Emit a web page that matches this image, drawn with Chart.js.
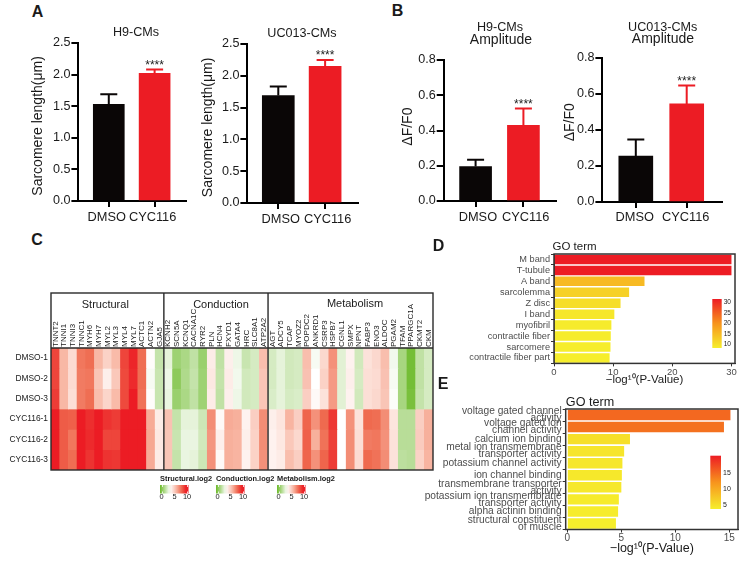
<!DOCTYPE html>
<html>
<head>
<meta charset="utf-8">
<script src="https://cdn.jsdelivr.net/npm/chart.js@4"></script>
<style>
html, body { margin: 0; padding: 0; background: #fff; }
#page { position: relative; width: 753px; height: 563px; overflow: hidden; }
canvas { position: absolute; }
.txt { position: absolute; transform: translate(-50%, -50%); white-space: nowrap; font-family: "Liberation Sans", Arial, sans-serif; color: #1a1a1a; line-height: 1; }
</style>
</head>
<body>
<div id="page"></div>
<script>
"use strict";

// bars
var groups = ["DMSO", "CYC116"];
var lengthH9 = [1.53, 2.02];
var lengthH9Top = [1.69, 2.08];
var lengthUC = [1.69, 2.15];
var lengthUCTop = [1.83, 2.25];
var ampH9 = [0.196, 0.43];
var ampH9Top = [0.234, 0.525];
var ampUC = [0.255, 0.545];
var ampUCTop = [0.347, 0.647];

// heatmap
var genes = ["TNNT2", "TNNI1", "TNNI3", "TNNC1", "MYH6", "MYH7", "MYL2", "MYL3", "MYL4", "MYL7", "ACTC1", "ACTN2", "GJA5",
    "KCNH2", "SCN5A", "KCNQ1", "CACNA1C", "RYR2", "PLN", "HCN4", "FXYD1", "GATA4", "HRC", "SLC8A1", "ATP2A2",
    "AGT", "ADCY5", "TCAP", "MYOZ2", "POPDC2", "ANKRD1", "CSRP3", "HSPB7", "CGNL1", "SMPX", "NPNT", "FABP3", "ENO3", "ALDOC", "PGAM2", "TFAM", "PPARGC1A", "CKMT2", "CKM"];
var samples = ["DMSO-1", "DMSO-2", "DMSO-3", "CYC116-1", "CYC116-2", "CYC116-3"];
var dmso1 = [8.3, 5.7, 4.6, 7.2, 7.4, 5.7, 4.9, 5.6, 8.3, 9.0, 7.4, 3.6, 2.1,
    2.9, 1.2, 1.5, 2.0, 1.1, 4.1, 2.0, 4.0, 3.1, 2.2, 2.5, 5.5,
    2.5, 2.9, 2.4, 2.5, 5.5, 3.3, 4.7, 6.6, 2.8, 3.9, 2.4, 4.4, 4.7, 5.5, 3.2, 1.4, 0.2, 2.0, 2.5];
var dmso2 = [8.3, 5.7, 4.6, 7.1, 7.2, 5.3, 4.0, 5.2, 8.2, 8.9, 7.4, 3.3, 2.2,
    3.1, 0.8, 1.6, 2.1, 1.2, 4.2, 2.1, 4.1, 3.2, 2.4, 2.5, 5.3,
    2.5, 2.9, 2.4, 2.5, 5.4, 3.5, 4.9, 6.4, 2.8, 4.0, 2.5, 4.5, 4.6, 5.4, 3.3, 1.4, 0.2, 2.0, 2.5];
var dmso3 = [8.5, 5.7, 4.5, 7.1, 7.4, 5.5, 4.8, 5.6, 8.2, 9.4, 7.3, 3.6, 2.2,
    3.0, 1.1, 1.5, 2.0, 1.2, 4.1, 2.0, 4.0, 3.1, 2.4, 2.5, 5.3,
    2.6, 2.9, 2.5, 2.6, 5.0, 3.7, 4.4, 6.4, 2.8, 3.9, 2.4, 4.5, 4.7, 5.3, 3.4, 1.4, 0.3, 2.1, 2.5];
var cyc1 = [9.5, 7.8, 7.7, 9.5, 8.8, 9.5, 8.7, 8.5, 9.3, 9.5, 9.4, 6.0, 4.1,
    5.4, 2.1, 2.9, 2.9, 2.3, 6.7, 3.7, 6.0, 5.9, 3.9, 5.0, 6.7,
    4.0, 4.3, 5.8, 5.0, 7.6, 6.6, 7.5, 8.6, 3.5, 6.6, 4.4, 7.5, 7.4, 6.7, 4.3, 1.8, 1.8, 5.0, 5.9];
var cyc2 = [9.5, 7.8, 7.2, 9.5, 8.9, 9.3, 8.3, 8.3, 9.3, 9.5, 9.4, 6.1, 4.2,
    5.3, 2.2, 3.0, 3.0, 2.4, 6.5, 4.0, 5.9, 5.8, 4.0, 4.9, 6.7,
    3.9, 4.2, 5.2, 4.7, 7.7, 5.9, 7.3, 8.4, 3.5, 6.7, 4.5, 7.1, 7.2, 6.6, 4.4, 1.8, 1.8, 5.1, 5.9];
var cyc3 = [9.5, 7.8, 7.4, 9.4, 8.7, 9.4, 8.7, 8.6, 9.3, 9.5, 9.4, 6.0, 4.1,
    5.3, 2.1, 3.0, 2.9, 2.3, 6.6, 3.7, 5.9, 5.8, 3.9, 4.9, 6.6,
    3.9, 4.1, 5.5, 5.0, 7.6, 6.6, 7.6, 8.5, 3.5, 6.7, 4.6, 7.5, 7.3, 6.7, 4.4, 1.9, 1.8, 4.9, 5.8];

// GO term bars
var goCellTerms = ["M band", "T-tubule", "A band", "sarcolemma", "Z disc", "I band", "myofibril", "contractile fiber", "sarcomere", "contractile fiber part"];
var goCellValues = [30, 30, 15.3, 12.7, 11.25, 10.2, 9.7, 9.6, 9.55, 9.4];
var goFuncTerms = [["voltage gated channel", "activity"], ["voltage gated ion", "channel activity"], "calcium ion binding",
    ["metal ion transmembrane", "transporter activity"], "potassium channel activity", "ion channel binding",
    ["transmembrane transporter", "activity"], ["potassium ion transmembrane", "transporter activity"], "alpha actinin binding",
    ["structural constituent", "of muscle"]];
var goFuncValues = [15.1, 14.5, 5.8, 5.26, 5.1, 5.05, 5.0, 4.77, 4.7, 4.5];

Chart.defaults.font.family = '"Liberation Sans", Arial, sans-serif';
Chart.defaults.animation = false;
Chart.defaults.plugins.legend.display = false;
Chart.defaults.plugins.tooltip.enabled = false;

var page = document.getElementById('page');

function addCanvas(left, top, w, h) {
    var c = document.createElement('canvas');
    c.width = w;
    c.height = h;
    c.style.left = left + 'px';
    c.style.top = top + 'px';
    page.appendChild(c);
    return c;
}

function addText(str, x, y, size, bold) {
    var d = document.createElement('div');
    d.className = 'txt';
    d.textContent = str;
    d.style.left = x + 'px';
    d.style.top = y + 'px';
    d.style.fontSize = size + 'px';
    if (bold) d.style.fontWeight = 'bold';
    page.appendChild(d);
}

function mix(a, b, t) {
    t = Math.max(0, Math.min(1, t));
    return 'rgb(' + [0, 1, 2].map(function (i) { return Math.round(a[i] + (b[i] - a[i]) * t); }).join(',') + ')';
}

// green below about 3.5, white, then salmon into red
function heatColor(v) {
    if (v <= 3.5) return mix([108, 186, 42], [255, 255, 255], v / 3.5);
    var t = (v - 3.5) / 5.7;
    if (t < 0.4) return mix([255, 255, 255], [248, 181, 162], t / 0.4);
    if (t < 0.7) return mix([248, 181, 162], [239, 106, 79], (t - 0.4) / 0.3);
    return mix([239, 106, 79], [236, 28, 36], (t - 0.7) / 0.3);
}

// yellow - orange - red ramp used by both GO panels
function goColor(v, lo, hi) {
    var t = (v - lo) / (hi - lo);
    if (t < 0.5) return mix([246, 238, 44], [247, 148, 29], t * 2);
    return mix([247, 148, 29], [237, 28, 36], (t - 0.5) * 2);
}

// error whiskers and stars, positioned through the chart's own scales
var whiskers = {
    id: 'whiskers',
    afterDatasetsDraw: function (chart, args, opts) {
        var c = chart.ctx, xs = chart.scales.x, ys = chart.scales.y;
        c.save();
        c.lineWidth = 2;
        opts.tops.forEach(function (top, i) {
            var x = xs.getPixelForValue(i), y = ys.getPixelForValue(top), base = ys.getPixelForValue(opts.values[i]);
            c.strokeStyle = opts.colors[i];
            c.beginPath();
            c.moveTo(x, base);
            c.lineTo(x, y);
            c.moveTo(x - 8.5, y);
            c.lineTo(x + 8.5, y);
            c.stroke();
        });
        var last = opts.tops.length - 1;
        c.fillStyle = '#222';
        c.font = '12px "Liberation Sans"';
        c.textAlign = 'center';
        c.textBaseline = 'alphabetic';
        c.fillText('****', xs.getPixelForValue(last), ys.getPixelForValue(opts.tops[last]) - 0.5);
        c.restore();
    }
};

function barPanel(o) {
    var L = o.titleX - 8.4, T = o.top - 12, W = o.right - L + 25, H = o.bottom - T + 30;
    var cv = addCanvas(L, T, W, H);
    var colors = ['#0a0606', '#ec1c24'];
    var s = o.center1 - o.center0;
    new Chart(cv, {
        type: 'bar',
        data: {
            datasets: [{
                data: o.values.map(function (v, i) { return { x: i, y: v }; }),
                backgroundColor: colors,
                barThickness: o.barW
            }]
        },
        plugins: [whiskers],
        options: {
            responsive: false,
            layout: { padding: { left: 0, top: 12, right: 25, bottom: 0 } },
            scales: {
                x: {
                    type: 'linear',
                    offset: false,
                    min: (o.left - o.center0) / s,
                    max: (o.right - o.center0) / s,
                    grid: { display: true, offset: false, drawOnChartArea: false, color: '#000', lineWidth: 2, tickLength: 6 },
                    border: { color: '#000', width: 2 },
                    afterFit: function (a) { a.height = 30; },
                    ticks: {
                        stepSize: 1,
                        includeBounds: false,
                        padding: o.xPad,
                        labelOffset: o.xShift,
                        maxRotation: 0,
                        color: '#1a1a1a',
                        font: { size: 12.8 },
                        callback: function (v) { return groups[v]; }
                    }
                },
                y: {
                    min: 0,
                    max: o.yMax,
                    grid: { display: true, drawOnChartArea: false, color: '#000', lineWidth: 2, tickLength: 7 },
                    border: { color: '#000', width: 2 },
                    afterFit: function (a) { a.width = o.left - L; },
                    title: { display: true, text: o.yTitle, color: '#1a1a1a', font: { size: 14 }, padding: 0 },
                    ticks: {
                        stepSize: o.yStep,
                        padding: 1,
                        color: '#1a1a1a',
                        font: { size: 12.6 },
                        callback: function (v) { return v.toFixed(1); }
                    }
                }
            },
            plugins: {
                whiskers: { tops: o.tops, values: o.values, colors: colors }
            }
        }
    });
}

// the no-break spaces nudge the axis titles along the axis, as in the original
var nb = '\u00A0';
barPanel({ left: 78, right: 186, top: 42.7, bottom: 201, center0: 108.5, center1: 154.5, barW: 31, titleX: 38, xPad: 3, xShift: -2,
    yMax: 2.5, yStep: 0.5, yTitle: 'Sarcomere length(μm)' + nb + nb, values: lengthH9, tops: lengthH9Top });
barPanel({ left: 247, right: 358, top: 44, bottom: 203.7, center0: 278, center1: 325, barW: 32, titleX: 208, xPad: 3, xShift: 2.5,
    yMax: 2.5, yStep: 0.5, yTitle: 'Sarcomere length(μm)' + nb + nb, values: lengthUC, tops: lengthUCTop });
barPanel({ left: 443.3, right: 556, top: 60, bottom: 201.3, center0: 475.3, center1: 523.3, barW: 32, titleX: 408, xPad: 3, xShift: 2.3,
    yMax: 0.8, yStep: 0.2, yTitle: nb + nb + 'ΔF/F0', values: ampH9, tops: ampH9Top });
barPanel({ left: 602.7, right: 723, top: 58.3, bottom: 202.7, center0: 636.3, center1: 687.5, barW: 34, titleX: 570.7, xPad: 2, xShift: -1,
    yMax: 0.8, yStep: 0.2, yTitle: nb + nb + nb + nb + 'ΔF/F0', values: ampUC, tops: ampUCTop });

// heatmap: one stacked row per sample, cells coloured by value
var heatRows = [dmso1, dmso2, dmso3, cyc1, cyc2, cyc3];
var heatFrame = {
    id: 'heatFrame',
    afterDatasetsDraw: function (chart) {
        var c = chart.ctx, a = chart.chartArea, xs = chart.scales.x;
        var boxTop = 8;
        c.save();
        c.strokeStyle = '#2a2a2a';
        c.lineWidth = 1.4;
        c.strokeRect(a.left, boxTop, a.right - a.left, a.bottom - boxTop);
        c.beginPath();
        c.moveTo(a.left, a.top);
        c.lineTo(a.right, a.top);
        [12.5, 24.5].forEach(function (g) {
            var x = xs.getPixelForValue(g);
            c.moveTo(x, boxTop);
            c.lineTo(x, a.bottom);
        });
        c.stroke();

        c.fillStyle = '#1a1a1a';
        c.textAlign = 'center';
        c.textBaseline = 'middle';
        c.font = '11px "Liberation Sans"';
        c.fillText('Structural', 105.3, 20);
        c.fillText('Conduction', 221, 20);
        c.fillText('Metabolism', 355, 19);

        // colour keys
        [['Structural.log2', 160], ['Conduction.log2', 216], ['Metabolism.log2', 277]].forEach(function (k) {
            var x0 = k[1], w = 28.5, yTop = 485 - 285;
            c.textAlign = 'left';
            c.fillStyle = '#1a1a1a';
            c.font = 'bold 7.4px "Liberation Sans"';
            c.fillText(k[0], x0, 479 - 285);
            var g = c.createLinearGradient(x0, 0, x0 + w, 0);
            for (var v = 0; v <= 10; v++) g.addColorStop(v / 10, heatColor(v));
            c.fillStyle = g;
            c.fillRect(x0, yTop, w, 8.5);
            c.fillStyle = '#fff';
            c.fillRect(x0 + 2, yTop, 0.8, 2);
            c.fillRect(x0 + 2, yTop + 6.5, 0.8, 2);
            c.fillRect(x0 + 27, yTop, 0.8, 2);
            c.fillRect(x0 + 27, yTop + 6.5, 0.8, 2);
            c.fillStyle = '#1a1a1a';
            c.font = '7.4px "Liberation Sans"';
            c.textAlign = 'center';
            c.fillText('0', x0 + 1.5, 497 - 285);
            c.fillText('5', x0 + 14.5, 497 - 285);
            c.fillText('10', x0 + 27, 497 - 285);
        });
        c.restore();
    }
};

new Chart(addCanvas(0, 285, 440, 225), {
    type: 'bar',
    data: {
        labels: genes,
        datasets: heatRows.map(function (row, r) {
            return {
                label: samples[r],
                data: row.map(function () { return 1; }),
                backgroundColor: row.map(heatColor),
                stack: 'cells',
                categoryPercentage: 1,
                barPercentage: 1,
                borderWidth: 0
            };
        })
    },
    plugins: [heatFrame],
    options: {
        responsive: false,
        layout: { padding: { left: 0, top: 13, right: 7, bottom: 40 } },
        scales: {
            x: {
                position: 'top',
                stacked: true,
                grid: { display: false, drawTicks: false },
                border: { display: false },
                afterFit: function (a) { a.height = 50; },
                ticks: { autoSkip: false, minRotation: 90, maxRotation: 90, padding: 1, labelOffset: 9.6, color: '#1a1a1a', font: { size: 8 } }
            },
            y: {
                stacked: true,
                reverse: true,
                min: 0,
                max: 6,
                grid: { display: false, drawTicks: false },
                border: { display: false },
                afterFit: function (a) { a.width = 51; },
                afterBuildTicks: function (a) {
                    a.ticks = samples.map(function (n, i) { return { value: i + 0.5 }; });
                },
                ticks: {
                    padding: 3,
                    color: '#1a1a1a',
                    font: { size: 8.4 },
                    callback: function (v) { return samples[v - 0.5]; }
                }
            }
        }
    }
});

// frame round the plot and a small vertical colour key
var goFrame = {
    id: 'goFrame',
    afterDraw: function (chart, args, o) {
        var c = chart.ctx, a = chart.chartArea, cv = chart.canvas;
        var ox = parseFloat(cv.style.left), oy = parseFloat(cv.style.top);
        c.save();
        c.strokeStyle = '#333';
        c.lineWidth = 1.5;
        c.strokeRect(a.left, a.top, a.right - a.left, a.bottom - a.top);
        var g = c.createLinearGradient(0, o.key[1] - oy, 0, o.key[3] - oy);
        for (var i = 0; i <= 10; i++) g.addColorStop(i / 10, goColor(o.hi - (o.hi - o.lo) * i / 10, o.lo, o.hi));
        c.fillStyle = g;
        c.fillRect(o.key[0] - ox, o.key[1] - oy, o.key[2] - o.key[0], o.key[3] - o.key[1]);
        c.fillStyle = '#1a1a1a';
        c.font = o.keySize + 'px "Liberation Sans"';
        c.textAlign = 'left';
        c.textBaseline = 'middle';
        o.keyTicks.forEach(function (t) {
            c.fillText(String(t[0]), o.key[2] - ox + 2, t[1] - oy);
        });
        c.restore();
    }
};

function goPanel(o) {
    var L = o.canvasLeft, T = o.top - 8, H = o.titleY + o.xTitleSize * 0.6 - T;
    var W = o.right - L + 14;
    new Chart(addCanvas(L, T, W, H), {
        type: 'bar',
        data: {
            labels: o.terms,
            datasets: [{
                data: o.values,
                backgroundColor: o.values.map(function (v) { return goColor(v, o.lo, o.hi); }),
                categoryPercentage: 1,
                barPercentage: 0.87
            }]
        },
        plugins: [goFrame],
        options: {
            indexAxis: 'y',
            responsive: false,
            layout: { padding: { left: 0, top: 8, right: 14, bottom: 0 } },
            scales: {
                x: {
                    min: o.xMin,
                    max: o.xMax,
                    grid: { display: true, drawOnChartArea: false, color: '#333', tickLength: 3 },
                    border: { color: '#333' },
                    afterFit: function (a) { a.height = H - (o.bottom - T); },
                    title: { display: true, text: '−log¹⁰(P-Value)', color: '#1a1a1a', font: { size: o.xTitleSize }, padding: 0 },
                    ticks: {
                        stepSize: o.xStep,
                        includeBounds: false,
                        padding: 0,
                        maxRotation: 0,
                        color: '#4d4d4d',
                        font: { size: o.tickSize }
                    }
                },
                y: {
                    grid: { display: true, drawOnChartArea: false, color: '#333', tickLength: 3 },
                    border: { color: '#333' },
                    afterFit: function (a) { a.width = o.left - L; },
                    ticks: {
                        autoSkip: false,
                        padding: 1,
                        color: '#4d4d4d',
                        font: { size: o.labelSize, lineHeight: '7px' }
                    }
                }
            },
            plugins: {
                goFrame: { key: o.key, keyTicks: o.keyTicks, keySize: o.keySize, lo: o.lo, hi: o.hi }
            }
        }
    });
}

goPanel({ canvasLeft: 455, left: 554, right: 735.7, top: 254, bottom: 364, titleY: 380.7, xTitleSize: 11.5,
    xMin: 0, xMax: 30.6, xStep: 10, tickSize: 9.5, labelSize: 9.2, terms: goCellTerms, values: goCellValues, lo: 9.4, hi: 30,
    key: [712.3, 299, 721.7, 348], keySize: 6.6, keyTicks: [[30, 302.3], [25, 312.7], [20, 323.3], [15, 333.7], [10, 344.3]] });
goPanel({ canvasLeft: 425, left: 565.7, right: 738.3, top: 409, bottom: 530, titleY: 549, xTitleSize: 12.5,
    xMin: -0.15, xMax: 15.8, xStep: 5, tickSize: 10, labelSize: 10.2, terms: goFuncTerms, values: goFuncValues, lo: 4.5, hi: 20,
    key: [710.3, 455.7, 721, 509], keySize: 7, keyTicks: [[15, 472.7], [10, 488.7], [5, 505]] });

// panel letters and titles
addText('A', 37.5, 12, 16, true);
addText('B', 397.5, 11, 16, true);
addText('C', 37, 240, 16, true);
addText('D', 438.5, 246, 16, true);
addText('E', 443, 384, 16, true);
addText('H9-CMs', 136, 32, 12.6);
addText('UC013-CMs', 302, 32.5, 12.6);
addText('H9-CMs', 500, 27, 12.6);
addText('Amplitude', 501, 39, 14);
addText('UC013-CMs', 662.7, 26.7, 12.6);
addText('Amplitude', 663, 37.7, 14);
addText('GO term', 574.5, 247, 11.5);
addText('GO term', 590, 402, 12.6);
</script>
</body>
</html>
